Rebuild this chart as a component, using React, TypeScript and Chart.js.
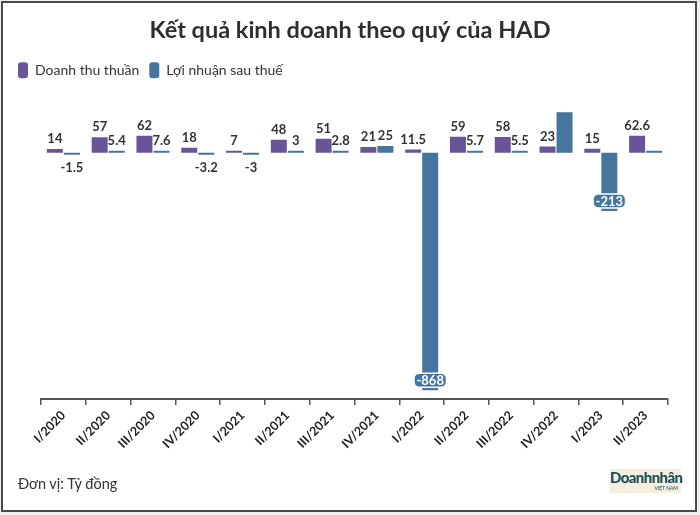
import React, { useEffect, useRef } from 'react';
import { Chart, registerables } from 'chart.js';

Chart.register(...registerables);

const categories = ['I/2020', 'II/2020', 'III/2020', 'IV/2020', 'I/2021', 'II/2021', 'III/2021', 'IV/2021', 'I/2022', 'II/2022', 'III/2022', 'IV/2022', 'I/2023', 'II/2023'];
const revenue = [14, 57, 62, 18, 7, 48, 51, 21, 11.5, 59, 58, 23, 15, 62.6];
const profit = [-1.5, 5.4, 7.6, -3.2, -3, 3, 2.8, 25, -868, 5.7, 5.5, 148, -213, 1];
const revenueLabelShown = [true, true, true, true, true, true, true, true, true, true, true, true, true, true];
const profitLabelShown = [true, true, true, true, true, true, true, true, true, true, true, false, true, false];

const PURPLE = '#6a5499';
const BLUE = '#46759d';
const FONT = 'Lato';

const valueLabels = {
  id: 'valueLabels',
  afterDatasetsDraw(chart: any) {
    const ctx = chart.ctx;
    chart.data.datasets.forEach((ds: any, di: number) => {
      const meta = chart.getDatasetMeta(di);
      const shown = di === 0 ? revenueLabelShown : profitLabelShown;
      meta.data.forEach((bar: any, i: number) => {
        if (!shown[i]) return;
        const v = ds.data[i] as number;
        const text = String(v);
        const { x, y } = bar.getProps(['x', 'y'], true);
        ctx.save();
        ctx.font = `bold 13px ${FONT}`;
        ctx.textAlign = 'center';
        ctx.textBaseline = 'middle';
        if (v >= 0) {
          ctx.fillStyle = '#333';
          ctx.fillText(text, x, y - 10);
        } else if (v > -100) {
          ctx.fillStyle = '#333';
          ctx.fillText(text, x, y + 13);
        } else {
          const w = ctx.measureText(text).width + 5;
          const h = 14;
          const cy = y - 10;
          ctx.beginPath();
          (ctx as any).roundRect(x - w / 2, cy - h / 2, w, h, 5);
          ctx.fillStyle = BLUE;
          ctx.fill();
          ctx.lineWidth = 1.5;
          ctx.strokeStyle = '#ffffff';
          ctx.stroke();
          ctx.fillStyle = '#ffffff';
          ctx.fillText(text, x, cy + 0.5);
        }
        ctx.restore();
      });
    });
  },
};

export default function App() {
  const canvasRef = useRef<HTMLCanvasElement | null>(null);

  useEffect(() => {
    if (!canvasRef.current) return;
    const chart = new Chart(canvasRef.current, {
      type: 'bar',
      data: {
        labels: categories,
        datasets: [
          {
            label: 'Doanh thu thuần',
            data: revenue,
            backgroundColor: PURPLE,
            borderWidth: 0,
            borderRadius: 0,
            barPercentage: 0.94,
            categoryPercentage: 0.76,
            minBarLength: 2,
          },
          {
            label: 'Lợi nhuận sau thuế',
            data: profit,
            backgroundColor: BLUE,
            borderWidth: 0,
            borderRadius: 0,
            barPercentage: 0.94,
            categoryPercentage: 0.76,
            minBarLength: 2,
          },
        ],
      },
      options: {
        responsive: false,
        animation: false,
        devicePixelRatio: 1,
        layout: { padding: { left: 8, right: 8, top: 0, bottom: 56 } },
        plugins: {
          title: {
            display: true,
            text: 'Kết quả kinh doanh theo quý của HAD',
            color: '#2e2e2e',
            font: { family: FONT, size: 23.5, weight: 'bold' },
            padding: { top: 16, bottom: 8 },
          },
          legend: {
            display: true,
            align: 'start',
            labels: {
              color: '#333',
              font: { family: FONT, size: 14 },
              boxWidth: 10,
              boxHeight: 16,
              padding: 10,
              useBorderRadius: true,
              borderRadius: 3,
            },
          },
          tooltip: { enabled: false },
        },
        scales: {
          x: {
            grid: { drawOnChartArea: false, drawTicks: true, tickLength: 6, color: '#555', lineWidth: 1.5 },
            border: { display: true, color: '#555', width: 2 },
            ticks: {
              color: '#222',
              font: { family: FONT, size: 12.5, weight: 'bold' },
              minRotation: 45,
              maxRotation: 45,
              padding: 3,
              autoSkip: false,
            },
            afterFit: (s: any) => { s.height = 60; },
          },
          y: {
            min: -900,
            max: 236,
            display: true,
            grid: { display: false, drawTicks: false },
            border: { display: false },
            ticks: { display: false },
            afterFit: (s: any) => { s.width = 33; },
          },
          yR: {
            type: 'linear',
            position: 'right',
            display: true,
            grid: { display: false, drawTicks: false },
            border: { display: false },
            ticks: { display: false },
            afterFit: (s: any) => { s.width = 24; },
          },
        },
      } as any,
      plugins: [valueLabels],
    });
    return () => chart.destroy();
  }, []);

  return (
    <div style={{ position: 'fixed', left: 0, top: 0, width: 700, height: 515, background: '#efefef', overflow: 'hidden' }}>
      <div style={{ position: 'absolute', left: 1, top: 1, width: 696, height: 511, boxSizing: 'border-box', border: '2px solid #4a4a4a', background: '#ffffff' }} />
      <canvas ref={canvasRef} width={700} height={515} style={{ position: 'absolute', left: 0, top: 0 }} />
      <div style={{ position: 'absolute', left: 18, top: 474, fontFamily: FONT, fontSize: 14.5, color: '#333', lineHeight: '20px' }}>Đơn vị: Tỷ đồng</div>
      <div style={{ position: 'absolute', left: 610, top: 469, width: 71, height: 24, background: '#f5eedd', fontFamily: FONT, textAlign: 'center', lineHeight: 1 }}>
        <div style={{ fontSize: 15, fontWeight: 900, color: '#1e4d5c', letterSpacing: -0.6, marginTop: 1 }}>Doanhnhân</div>
        <div style={{ fontSize: 5, color: '#1e4d5c', textAlign: 'right', paddingRight: 3, marginTop: 1 }}>VIỆT NAM</div>
      </div>
    </div>
  );
}
